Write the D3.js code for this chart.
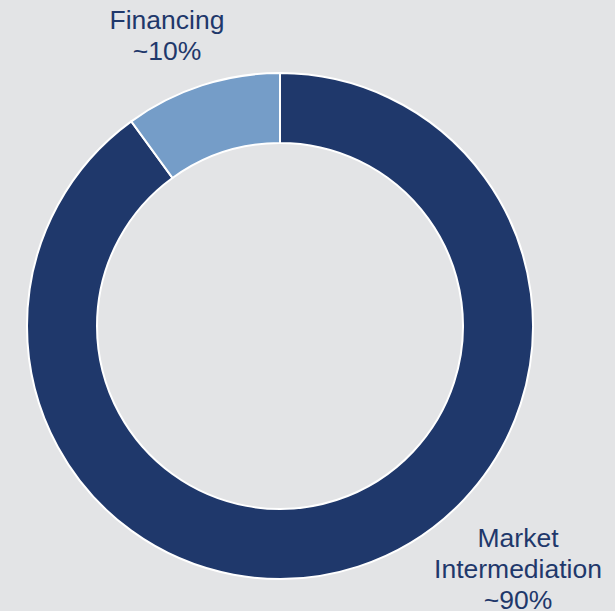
<!DOCTYPE html>
<html>
<head>
<meta charset="utf-8">
<script src="https://cdn.jsdelivr.net/npm/d3@7"></script>
<style>
  html, body { margin: 0; padding: 0; background: #e3e4e6; }
  svg { display: block; }
  text { font-family: "Liberation Sans", Arial, sans-serif; fill: #1f386b; }
</style>
</head>
<body>
<svg id="chart" width="615" height="611"></svg>
<script>
// segments, clockwise from 12 o'clock
let categories = ['Market Intermediation', 'Financing'];
let shares = [90, 10];
let labelLines = [['Market', 'Intermediation', '~90%'], ['Financing', '~10%']];
let colors = ['#1f386b', '#759dc8'];

let svg = d3.select('#chart');
let cx = 280, cy = 326;
let outerR = 253, innerR = 183;

let pie = d3.pie().sort(null).value(d => d.value);
let arcs = pie(categories.map((c, i) => ({ name: c, value: shares[i] })));
let arc = d3.arc().innerRadius(innerR).outerRadius(outerR);

let g = svg.append('g').attr('transform', 'translate(' + cx + ',' + cy + ')');
g.selectAll('path.slice')
  .data(arcs)
  .enter().append('path')
  .attr('class', 'slice')
  .attr('d', arc)
  .attr('fill', (d, i) => colors[i])
  .attr('stroke', '#ffffff')
  .attr('stroke-width', 2)
  .attr('stroke-linejoin', 'round');

// labels placed by hand next to their slices
let labelPos = [{ x: 518, y: 547 }, { x: 167, y: 29 }];
let lineHeight = 31;
labelLines.forEach((lines, i) => {
  let t = svg.append('text')
    .attr('text-anchor', 'middle')
    .attr('font-size', 26.5);
  lines.forEach((line, j) => {
    t.append('tspan')
      .attr('x', labelPos[i].x)
      .attr('y', labelPos[i].y + j * lineHeight)
      .text(line);
  });
});
</script>
</body>
</html>
